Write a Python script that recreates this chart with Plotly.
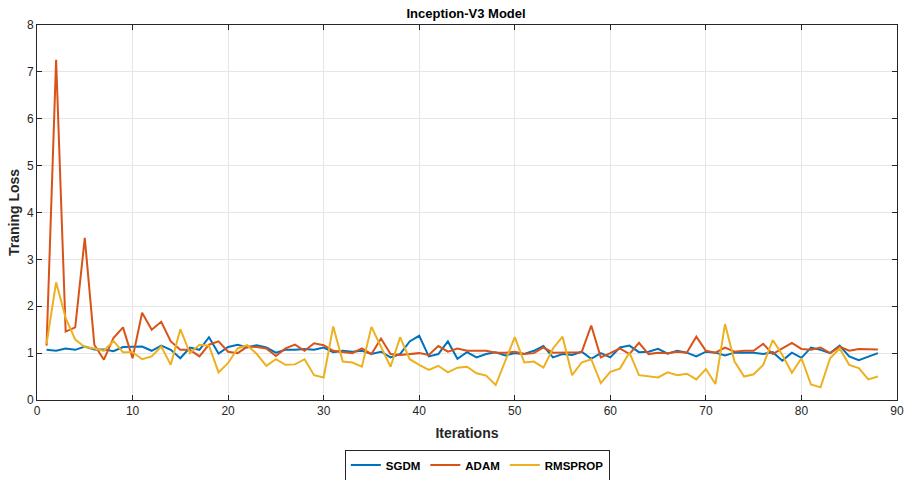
import plotly.graph_objects as go

iterations = list(range(1, 89))

sgdm = [1.07, 1.05, 1.10, 1.07, 1.14, 1.08, 1.08, 1.04, 1.13, 1.14,
        1.14, 1.05, 1.16, 1.07, 0.89, 1.12, 1.07, 1.34, 0.99, 1.13,
        1.18, 1.12, 1.17, 1.12, 1.01, 1.07, 1.07, 1.09, 1.07, 1.12,
        1.02, 1.05, 1.03, 1.05, 0.98, 1.03, 0.91, 0.98, 1.25, 1.37,
        0.93, 0.98, 1.25, 0.88, 1.02, 0.91, 0.98, 1.02, 0.95, 1.00,
        0.98, 1.05, 1.15, 0.91, 0.98, 0.96, 1.03, 0.88, 1.00, 0.91,
        1.12, 1.16, 1.02, 1.03, 1.09, 0.99, 1.05, 1.01, 0.93, 1.03,
        1.01, 0.95, 1.01, 1.01, 1.01, 0.98, 1.02, 0.84, 1.01, 0.90,
        1.12, 1.07, 1.00, 1.16, 0.93, 0.85, 0.93, 1.00]

adam = [1.16, 7.26, 1.46, 1.55, 3.46, 1.18, 0.86, 1.32, 1.55, 0.89,
        1.86, 1.50, 1.67, 1.25, 1.07, 1.07, 0.93, 1.18, 1.25, 1.03,
        1.00, 1.14, 1.13, 1.10, 0.94, 1.10, 1.18, 1.05, 1.21, 1.17,
        1.05, 1.02, 1.00, 1.10, 0.98, 1.31, 0.98, 0.96, 0.98, 1.00,
        0.96, 1.15, 1.03, 1.10, 1.05, 1.05, 1.05, 1.01, 1.01, 1.03,
        0.98, 1.00, 1.12, 1.01, 1.01, 1.02, 1.02, 1.59, 0.91, 1.00,
        1.10, 0.98, 1.22, 0.98, 1.01, 1.00, 1.03, 1.01, 1.35, 1.05,
        1.01, 1.12, 1.03, 1.05, 1.05, 1.20, 0.98, 1.10, 1.22, 1.09,
        1.07, 1.12, 1.00, 1.14, 1.05, 1.09, 1.09, 1.08]

rmsprop = [1.20, 2.51, 1.75, 1.29, 1.13, 1.10, 1.05, 1.26, 1.02, 1.02,
           0.87, 0.93, 1.14, 0.75, 1.51, 1.00, 1.18, 1.16, 0.59, 0.79,
           1.10, 1.17, 0.98, 0.73, 0.87, 0.75, 0.76, 0.87, 0.53, 0.48,
           1.57, 0.82, 0.80, 0.71, 1.56, 1.14, 0.71, 1.34, 0.87, 0.75,
           0.64, 0.73, 0.59, 0.69, 0.71, 0.57, 0.52, 0.32, 0.83, 1.34,
           0.80, 0.82, 0.69, 1.10, 1.35, 0.53, 0.80, 0.87, 0.36, 0.60,
           0.67, 1.01, 0.53, 0.51, 0.48, 0.59, 0.53, 0.56, 0.44, 0.66,
           0.34, 1.62, 0.82, 0.50, 0.55, 0.75, 1.28, 0.96, 0.58, 0.89,
           0.33, 0.27, 0.89, 1.10, 0.75, 0.68, 0.44, 0.50]

series = [("SGDM", sgdm, "#0072BD"), ("ADAM", adam, "#D95319"), ("RMSPROP", rmsprop, "#EDB120")]

xticks = list(range(0, 91, 10))
yticks = list(range(0, 9))

FONT = "Liberation Sans, Arial, sans-serif"

fig = go.Figure()
for name, vals, color in series:
    fig.add_trace(go.Scatter(x=iterations, y=vals, mode="lines", name=f"<b>{name}</b>",
                             line=dict(color=color, width=2)))

axis_common = dict(showline=True, linecolor="#262626", linewidth=1, mirror="ticks",
                   ticks="inside", ticklen=5, tickcolor="#262626",
                   showgrid=True, gridcolor="#E6E6E6", gridwidth=1, zeroline=False,
                   tickfont=dict(family=FONT, size=12, color="#262626"))

fig.update_layout(
    width=905, height=480,
    margin=dict(l=37, r=8, t=25, b=80, autoexpand=False),
    paper_bgcolor="white", plot_bgcolor="white",
    title=dict(text="<b>Inception-V3 Model</b>", x=0.515, xanchor="center",
               y=0.972, yanchor="middle",
               font=dict(family=FONT, size=13, color="#000")),
    xaxis=dict(range=[0, 90], tickvals=xticks,
               title=dict(text="<b>Iterations</b>", standoff=10,
                          font=dict(family=FONT, size=14, color="#262626")),
               **axis_common),
    yaxis=dict(range=[0, 8], tickvals=yticks,
               title=dict(text="<b>Traning Loss</b>", standoff=4,
                          font=dict(family=FONT, size=14, color="#262626")),
               **axis_common),
    legend=dict(orientation="h", x=0.512, xanchor="center",
                yref="container", y=0.031, yanchor="middle",
                bordercolor="#262626", borderwidth=1, bgcolor="white",
                font=dict(family=FONT, size=11.5, color="#000"),
                itemwidth=30, tracegroupgap=0),
    showlegend=True,
)

fig.write_html("out.html")
